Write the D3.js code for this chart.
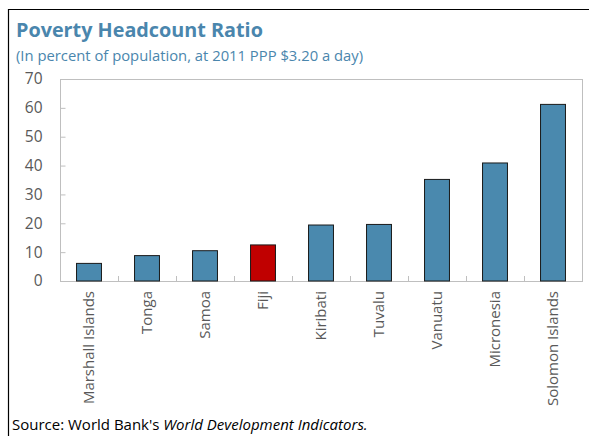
<!DOCTYPE html>
<html><head><meta charset="utf-8">
<script src="https://cdn.jsdelivr.net/npm/d3@7"></script>
<style>body{margin:0;background:#fff;} svg{display:block;}</style>
</head><body>
<svg id="c" width="589" height="436"></svg>
<script>
const categories = ["Marshall Islands","Tonga","Samoa","Fiji","Kiribati","Tuvalu","Vanuatu","Micronesia","Solomon Islands"];
const values = [6.1, 8.8, 10.5, 12.5, 19.4, 19.6, 35.2, 40.9, 61.2];
const highlight = ["Fiji"];
const yTicks = [0,10,20,30,40,50,60,70];

(function(){
const svg = d3.select("#c");
const font = "'Segoe UI','Open Sans','Noto Sans',sans-serif";
const pL = 60, pR = 582, pT = 79, pB = 281;

// outer frame
svg.append("path").attr("d","M8.5,440 V9.5 H589").attr("fill","none").attr("stroke","#000").attr("stroke-width",1.2);

svg.append("text").attr("x",16).attr("y",37).text("Poverty Headcount Ratio")
  .attr("font-family",font).attr("font-weight","bold").attr("font-size",19.8).attr("fill","#4a86ad");
svg.append("text").attr("x",16).attr("y",61).text("(In percent of population, at 2011 PPP $3.20 a day)")
  .attr("font-family",font).attr("font-size",14.8).attr("fill","#4a86ad");

const x = d3.scaleBand().domain(categories).range([pL,pR]).paddingInner(0.57).paddingOuter(0.285);
const y = d3.scaleLinear().domain([0,70]).range([pB,pT]);

// plot frame
svg.append("rect").attr("x",pL+0.5).attr("y",pT+0.5).attr("width",pR-pL).attr("height",pB-pT)
  .attr("fill","none").attr("stroke","#bfbfbf").attr("stroke-width",1);

// y axis
const ya = svg.append("g").attr("transform",`translate(${pL+0.5},0)`)
  .call(d3.axisLeft(y).tickValues(yTicks).tickSize(-5).tickPadding(18));
ya.select(".domain").remove();
ya.selectAll("line").attr("stroke","#bfbfbf");
ya.selectAll("text").attr("font-family",font).attr("font-size",15.5).attr("fill","#595959");

// x ticks between categories
const step = x.step();
const bounds = d3.range(1,categories.length).map(i => x(categories[i]) - x.paddingInner()*step/2);
svg.append("g").selectAll("line").data(bounds).join("line")
  .attr("x1",d=>Math.round(d)+0.5).attr("x2",d=>Math.round(d)+0.5).attr("y1",pB).attr("y2",pB-5)
  .attr("stroke","#bfbfbf");

// bars
svg.append("g").selectAll("rect").data(categories).join("rect")
  .attr("x",d=>x(d)).attr("width",x.bandwidth())
  .attr("y",(d,i)=>y(values[i])).attr("height",(d,i)=>y(0)-y(values[i]))
  .attr("fill",d=>highlight.includes(d)?"#c00000":"#4a89ae")
  .attr("stroke","#1a1a1a").attr("stroke-width",1);

// x labels
svg.append("g").selectAll("text").data(categories).join("text")
  .attr("transform",d=>`translate(${x(d)+x.bandwidth()/2+5},${pB+10}) rotate(-90)`)
  .attr("text-anchor","end").text(d=>d)
  .attr("font-family",font).attr("font-size",15).attr("fill","#595959");

// source
const s = svg.append("text").attr("x",12).attr("y",430).attr("font-family",font).attr("font-size",15).attr("fill","#000");
s.append("tspan").text("Source: World Bank's ");
s.append("tspan").attr("font-style","italic").text("World Development Indicators.");
})();
</script>
</body></html>
